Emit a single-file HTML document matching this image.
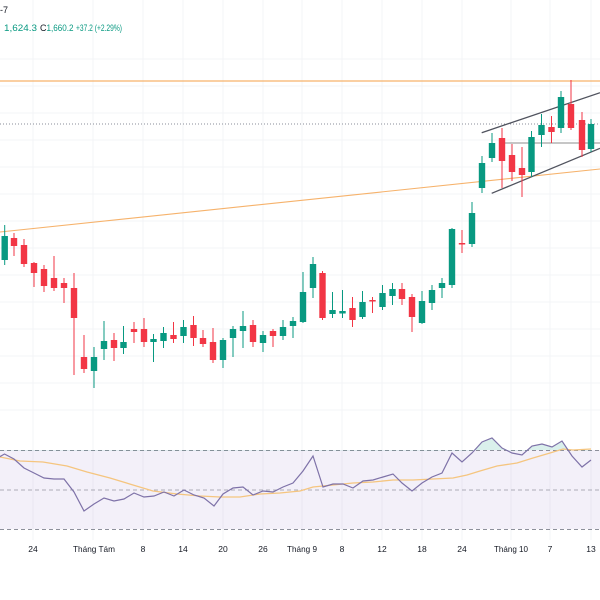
<!DOCTYPE html>
<html><head><meta charset="utf-8"><style>
html,body{margin:0;padding:0;background:#fff;width:600px;height:600px;overflow:hidden}
svg{display:block}
text{font-family:"Liberation Sans","DejaVu Sans",sans-serif}
</style></head><body>
<svg width="600" height="600" viewBox="0 0 600 600" xmlns="http://www.w3.org/2000/svg">
<rect width="600" height="600" fill="#fff"/>
<!-- grid -->
<g stroke="#f3f4f7" stroke-width="1">
<line x1="33" y1="0" x2="33" y2="540"/><line x1="93" y1="0" x2="93" y2="540"/><line x1="143" y1="0" x2="143" y2="540"/><line x1="183" y1="0" x2="183" y2="540"/><line x1="223" y1="0" x2="223" y2="540"/><line x1="263" y1="0" x2="263" y2="540"/><line x1="302" y1="0" x2="302" y2="540"/><line x1="342" y1="0" x2="342" y2="540"/><line x1="382" y1="0" x2="382" y2="540"/><line x1="422" y1="0" x2="422" y2="540"/><line x1="462" y1="0" x2="462" y2="540"/><line x1="511" y1="0" x2="511" y2="540"/><line x1="550" y1="0" x2="550" y2="540"/><line x1="591" y1="0" x2="591" y2="540"/>
<line x1="0" y1="59" x2="600" y2="59"/><line x1="0" y1="86" x2="600" y2="86"/><line x1="0" y1="113" x2="600" y2="113"/><line x1="0" y1="140" x2="600" y2="140"/><line x1="0" y1="167" x2="600" y2="167"/><line x1="0" y1="194" x2="600" y2="194"/><line x1="0" y1="221" x2="600" y2="221"/><line x1="0" y1="248" x2="600" y2="248"/><line x1="0" y1="275" x2="600" y2="275"/><line x1="0" y1="302" x2="600" y2="302"/><line x1="0" y1="329" x2="600" y2="329"/><line x1="0" y1="356" x2="600" y2="356"/><line x1="0" y1="383" x2="600" y2="383"/><line x1="0" y1="410" x2="600" y2="410"/>
</g>
<!-- header -->
<text x="0" y="13" font-size="9" fill="#131722">-7</text>
<text x="37" y="31" font-size="9" fill="#089981" text-anchor="end" textLength="33" lengthAdjust="spacingAndGlyphs">1,624.3</text>
<text x="40" y="31" font-size="9" fill="#131722">C</text>
<text x="46.5" y="31" font-size="9" fill="#089981" textLength="27" lengthAdjust="spacingAndGlyphs">1,660.2</text>
<text x="76" y="31" font-size="9" fill="#089981" textLength="46" lengthAdjust="spacingAndGlyphs">+37.2 (+2.29%)</text>
<!-- price lines -->
<line x1="0" y1="81" x2="600" y2="81" stroke="#f6b26b" stroke-width="1.2"/>
<line x1="0" y1="124" x2="600" y2="124" stroke="#8a8e99" stroke-width="1" stroke-dasharray="1,2"/>
<line x1="0" y1="232" x2="600" y2="169" stroke="#f6b26b" stroke-width="1.1"/>
<line x1="505" y1="143" x2="600" y2="143" stroke="#8d8d8d" stroke-width="1"/>
<line x1="481.7" y1="132.7" x2="600" y2="92.7" stroke="#50535e" stroke-width="1.3"/>
<line x1="491.7" y1="193.3" x2="600" y2="148.3" stroke="#50535e" stroke-width="1.3"/>
<!-- candles -->
<g stroke-width="1">
<g fill="#089981" stroke="#089981">
<line x1="4.7" y1="225" x2="4.7" y2="265"/><rect x="1.5" y="236" width="6.4" height="24" stroke="none"/>
<line x1="94" y1="347" x2="94" y2="388"/><rect x="90.8" y="357" width="6.4" height="14" stroke="none"/>
<line x1="104" y1="321" x2="104" y2="360"/><rect x="100.8" y="341" width="6.4" height="8" stroke="none"/>
<line x1="123.5" y1="326" x2="123.5" y2="354"/><rect x="120.3" y="342" width="6.4" height="6" stroke="none"/>
<line x1="153.5" y1="334" x2="153.5" y2="362"/><rect x="150.3" y="339" width="6.4" height="3" stroke="none"/>
<line x1="163.5" y1="327" x2="163.5" y2="348"/><rect x="160.3" y="333" width="6.4" height="8" stroke="none"/>
<line x1="183.5" y1="320" x2="183.5" y2="343"/><rect x="180.3" y="327" width="6.4" height="9" stroke="none"/>
<line x1="223" y1="338" x2="223" y2="368"/><rect x="219.8" y="340" width="6.4" height="20" stroke="none"/>
<line x1="233" y1="326" x2="233" y2="357"/><rect x="229.8" y="329" width="6.4" height="9" stroke="none"/>
<line x1="243" y1="311" x2="243" y2="348"/><rect x="239.8" y="326" width="6.4" height="5" stroke="none"/>
<line x1="263" y1="331" x2="263" y2="352"/><rect x="259.8" y="335" width="6.4" height="8" stroke="none"/>
<line x1="283" y1="320" x2="283" y2="340"/><rect x="279.8" y="327" width="6.4" height="9" stroke="none"/>
<line x1="293" y1="317" x2="293" y2="338"/><rect x="289.8" y="321" width="6.4" height="5" stroke="none"/>
<line x1="303" y1="272" x2="303" y2="323"/><rect x="299.8" y="292" width="6.4" height="30" stroke="none"/>
<line x1="313" y1="257" x2="313" y2="298"/><rect x="309.8" y="264" width="6.4" height="24" stroke="none"/>
<line x1="332.5" y1="292" x2="332.5" y2="318"/><rect x="329.3" y="310" width="6.4" height="4" stroke="none"/>
<line x1="342.5" y1="290" x2="342.5" y2="318"/><rect x="339.3" y="311" width="6.4" height="2.5" stroke="none"/>
<line x1="362.5" y1="291" x2="362.5" y2="319"/><rect x="359.3" y="302" width="6.4" height="15" stroke="none"/>
<line x1="382.5" y1="285" x2="382.5" y2="310"/><rect x="379.3" y="293" width="6.4" height="14" stroke="none"/>
<line x1="392.5" y1="283" x2="392.5" y2="305"/><rect x="389.3" y="289" width="6.4" height="7" stroke="none"/>
<line x1="422" y1="291" x2="422" y2="324"/><rect x="418.8" y="301" width="6.4" height="22" stroke="none"/>
<line x1="432" y1="285" x2="432" y2="310"/><rect x="428.8" y="290" width="6.4" height="13" stroke="none"/>
<line x1="442" y1="278" x2="442" y2="298"/><rect x="438.8" y="283" width="6.4" height="5" stroke="none"/>
<line x1="452" y1="228" x2="452" y2="288"/><rect x="448.8" y="229" width="6.4" height="56" stroke="none"/>
<line x1="472" y1="202" x2="472" y2="247"/><rect x="468.8" y="213" width="6.4" height="31" stroke="none"/>
<line x1="482" y1="156" x2="482" y2="193"/><rect x="478.8" y="163" width="6.4" height="25" stroke="none"/>
<line x1="492" y1="133" x2="492" y2="162"/><rect x="488.8" y="143" width="6.4" height="15" stroke="none"/>
<line x1="531.5" y1="131" x2="531.5" y2="177"/><rect x="528.3" y="137" width="6.4" height="35" stroke="none"/>
<line x1="541.5" y1="114" x2="541.5" y2="147"/><rect x="538.3" y="125" width="6.4" height="10" stroke="none"/>
<line x1="561" y1="91" x2="561" y2="133"/><rect x="557.8" y="97" width="6.4" height="31" stroke="none"/>
<line x1="591" y1="119" x2="591" y2="152"/><rect x="587.8" y="124" width="6.4" height="25" stroke="none"/>
</g>
<g fill="#f23645" stroke="#f23645">
<line x1="14" y1="233" x2="14" y2="256"/><rect x="10.8" y="238" width="6.4" height="8" stroke="none"/>
<line x1="24" y1="239" x2="24" y2="267"/><rect x="20.8" y="245" width="6.4" height="19" stroke="none"/>
<line x1="34" y1="262" x2="34" y2="287"/><rect x="30.8" y="263" width="6.4" height="10" stroke="none"/>
<line x1="44" y1="265" x2="44" y2="292"/><rect x="40.8" y="269" width="6.4" height="17" stroke="none"/>
<line x1="54" y1="256" x2="54" y2="291"/><rect x="50.8" y="278" width="6.4" height="10" stroke="none"/>
<line x1="64" y1="278" x2="64" y2="303"/><rect x="60.8" y="283" width="6.4" height="5" stroke="none"/>
<line x1="74" y1="273" x2="74" y2="375"/><rect x="70.8" y="288" width="6.4" height="30" stroke="none"/>
<line x1="84" y1="335" x2="84" y2="373"/><rect x="80.8" y="357" width="6.4" height="12" stroke="none"/>
<line x1="114" y1="333" x2="114" y2="361"/><rect x="110.8" y="340" width="6.4" height="8" stroke="none"/>
<line x1="134" y1="322" x2="134" y2="343"/><rect x="130.8" y="329" width="6.4" height="3" stroke="none"/>
<line x1="144" y1="318" x2="144" y2="347"/><rect x="140.8" y="329" width="6.4" height="13" stroke="none"/>
<line x1="173.5" y1="322" x2="173.5" y2="343"/><rect x="170.3" y="335" width="6.4" height="4" stroke="none"/>
<line x1="193.5" y1="316" x2="193.5" y2="346"/><rect x="190.3" y="325" width="6.4" height="13" stroke="none"/>
<line x1="203" y1="330" x2="203" y2="347"/><rect x="199.8" y="338" width="6.4" height="6" stroke="none"/>
<line x1="213" y1="328" x2="213" y2="363"/><rect x="209.8" y="342" width="6.4" height="18" stroke="none"/>
<line x1="253" y1="320" x2="253" y2="347"/><rect x="249.8" y="325" width="6.4" height="17" stroke="none"/>
<line x1="273" y1="329" x2="273" y2="347"/><rect x="269.8" y="331" width="6.4" height="5" stroke="none"/>
<line x1="322.5" y1="271" x2="322.5" y2="320"/><rect x="319.3" y="273" width="6.4" height="45" stroke="none"/>
<line x1="352.5" y1="297" x2="352.5" y2="327"/><rect x="349.3" y="308" width="6.4" height="12" stroke="none"/>
<line x1="372.5" y1="297" x2="372.5" y2="313"/><rect x="369.3" y="300" width="6.4" height="1.5" stroke="none"/>
<line x1="402" y1="283" x2="402" y2="305"/><rect x="398.8" y="289" width="6.4" height="10" stroke="none"/>
<line x1="412" y1="294" x2="412" y2="332"/><rect x="408.8" y="297" width="6.4" height="20" stroke="none"/>
<line x1="462" y1="230" x2="462" y2="253"/><rect x="458.8" y="243" width="6.4" height="1.5" stroke="none"/>
<line x1="502" y1="128" x2="502" y2="188"/><rect x="498.8" y="138" width="6.4" height="23" stroke="none"/>
<line x1="512" y1="144" x2="512" y2="181"/><rect x="508.8" y="155" width="6.4" height="17" stroke="none"/>
<line x1="522" y1="147" x2="522" y2="197"/><rect x="518.8" y="168" width="6.4" height="7" stroke="none"/>
<line x1="551.5" y1="116" x2="551.5" y2="143"/><rect x="548.3" y="127" width="6.4" height="5" stroke="none"/>
<line x1="571" y1="80" x2="571" y2="130"/><rect x="567.8" y="104" width="6.4" height="24" stroke="none"/>
<line x1="582" y1="112" x2="582" y2="157"/><rect x="578.8" y="120" width="6.4" height="30" stroke="none"/>
</g>
</g>
<!-- RSI pane -->
<rect x="0" y="450" width="600" height="79" fill="#7e57c2" fill-opacity="0.09"/>
<g stroke="#8d909b" stroke-width="1" stroke-dasharray="4,3">
<line x1="0" y1="450.5" x2="600" y2="450.5"/>
<line x1="0" y1="490" x2="600" y2="490" stroke-opacity="0.7"/>
<line x1="0" y1="529.5" x2="600" y2="529.5"/>
</g>
<defs><clipPath id="ob"><rect x="0" y="400" width="600" height="50.5"/></clipPath></defs>
<polygon clip-path="url(#ob)" fill="#089981" fill-opacity="0.15" points="-6,460 4.5,454 14,459 24,468 34,473 44,478 54,479 64,479 74,492 84,511 94,504 104,498 114,501 124,499 134,493 144,497 154,496 164,492 174,496 184,490 194,495 204,498 214,506 223,494 233,488 243,487 253,495 263,491 273,492 283,487 293,483 303,471 313,456 323,487 333,484 343,484 353,488 363,481 373,480 383,477 393,474 402,483 412,491 422,483 432,477 442,473 452,453 462,462 472,453 482,442 492,438 502,448 512,453 522,455 532,446 542,444 552,447 562,441 572,456 582,467 591,460 591,450 -6,450"/>
<polyline fill="none" stroke="#f5c57f" stroke-width="1.3" points="0,457 20,461 43,462 67,466 87,472 110,478 133,485 153,491 177,494 200,496 220,497 240,497 260,494 280,493 300,491 313,487 333,485 353,483 373,482 393,480 413,480 433,479 453,478 467,475 480,471 497,466 517,463 533,458 550,453 563,449 573,450 591,449"/>
<polyline fill="none" stroke="#7e72a8" stroke-width="1.2" points="-6,460 4.5,454 14,459 24,468 34,473 44,478 54,479 64,479 74,492 84,511 94,504 104,498 114,501 124,499 134,493 144,497 154,496 164,492 174,496 184,490 194,495 204,498 214,506 223,494 233,488 243,487 253,495 263,491 273,492 283,487 293,483 303,471 313,456 323,487 333,484 343,484 353,488 363,481 373,480 383,477 393,474 402,483 412,491 422,483 432,477 442,473 452,453 462,462 472,453 482,442 492,438 502,448 512,453 522,455 532,446 542,444 552,447 562,441 572,456 582,467 591,460"/>
<!-- x axis labels -->
<g font-size="8.5" fill="#131722" text-anchor="middle">
<text x="33" y="552">24</text>
<text x="94" y="552" textLength="42" lengthAdjust="spacingAndGlyphs">Tháng Tám</text>
<text x="143" y="552">8</text>
<text x="183" y="552">14</text>
<text x="223" y="552">20</text>
<text x="263" y="552">26</text>
<text x="302" y="552" textLength="30" lengthAdjust="spacingAndGlyphs">Tháng 9</text>
<text x="342" y="552">8</text>
<text x="382" y="552">12</text>
<text x="422" y="552">18</text>
<text x="462" y="552">24</text>
<text x="511" y="552" textLength="34" lengthAdjust="spacingAndGlyphs">Tháng 10</text>
<text x="550" y="552">7</text>
<text x="591" y="552">13</text>
</g>
</svg>
</body></html>
